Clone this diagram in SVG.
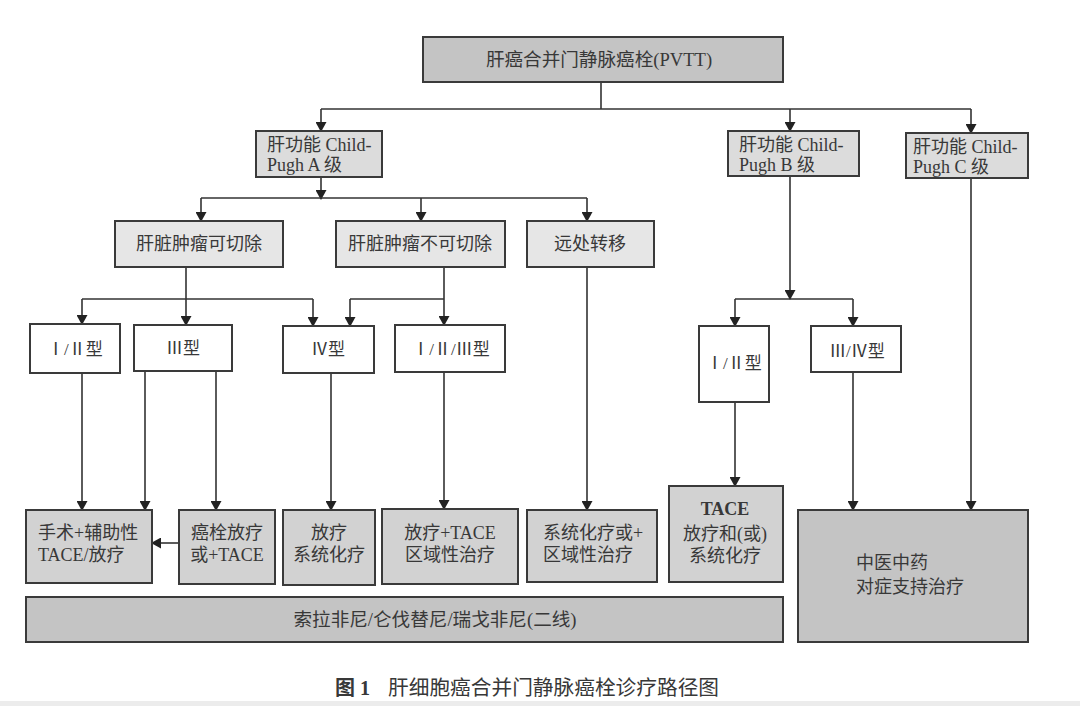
<svg xmlns="http://www.w3.org/2000/svg" width="1080" height="706" viewBox="0 0 1080 706">
<defs>
<marker id="ah" markerWidth="10" markerHeight="11" refX="9" refY="5.5" orient="auto" markerUnits="userSpaceOnUse">
<path d="M0,0 L10,5.5 L0,11 z" fill="#222"/>
</marker>
<style>
.b{stroke:#3a3a3a;stroke-width:2}
.f0{fill:#c4c4c4}.f1{fill:#dcdcdc}.f2{fill:#e6e6e6}.f3{fill:#ffffff}.f4{fill:#d2d2d2}
text{font-family:"Liberation Serif","Noto Sans CJK SC",serif;font-size:18px;fill:#383838}
.c{text-anchor:middle}
.s{font-size:17px}
.t{font-size:18.6px}
.cap{font-size:20.7px}
.cn line{stroke:#333;stroke-width:1.6;fill:none}
.ar{marker-end:url(#ah)}
</style>
</defs>
<rect x="0" y="0" width="1080" height="706" fill="#ffffff"/>
<rect x="0" y="701" width="1080" height="5" fill="#ececec"/>

<g class="cn" id="connectors">
<line x1="601" y1="82" x2="601" y2="109"/>
<line x1="321" y1="109" x2="971" y2="109"/>
<line class="ar" x1="321" y1="109" x2="321" y2="131"/>
<line class="ar" x1="790" y1="109" x2="790" y2="131"/>
<line class="ar" x1="971" y1="109" x2="971" y2="133"/>
<line class="ar" x1="321" y1="177" x2="321" y2="199"/>
<line x1="201" y1="198" x2="587" y2="198"/>
<line class="ar" x1="201" y1="198" x2="201" y2="221"/>
<line class="ar" x1="421" y1="198" x2="421" y2="221"/>
<line class="ar" x1="587" y1="198" x2="587" y2="221"/>
<line x1="186" y1="267" x2="186" y2="299"/>
<line x1="82" y1="299" x2="313" y2="299"/>
<line class="ar" x1="82" y1="299" x2="82" y2="324"/>
<line class="ar" x1="186" y1="299" x2="186" y2="325"/>
<line class="ar" x1="313" y1="299" x2="313" y2="326"/>
<line x1="444" y1="267" x2="444" y2="299"/>
<line x1="350" y1="299" x2="444" y2="299"/>
<line class="ar" x1="350" y1="299" x2="350" y2="326"/>
<line class="ar" x1="444" y1="299" x2="444" y2="325"/>
<line class="ar" x1="587" y1="267" x2="587" y2="510"/>
<line class="ar" x1="790" y1="176" x2="790" y2="299"/>
<line x1="735" y1="299" x2="853" y2="299"/>
<line class="ar" x1="735" y1="299" x2="735" y2="326"/>
<line class="ar" x1="853" y1="299" x2="853" y2="326"/>
<line class="ar" x1="971" y1="178" x2="971" y2="510"/>
<line class="ar" x1="82" y1="373" x2="82" y2="510"/>
<line class="ar" x1="145" y1="371" x2="145" y2="510"/>
<line class="ar" x1="216" y1="371" x2="216" y2="510"/>
<line class="ar" x1="331" y1="373" x2="331" y2="510"/>
<line class="ar" x1="444" y1="372" x2="444" y2="509"/>
<line class="ar" x1="735" y1="402" x2="735" y2="486"/>
<line class="ar" x1="853" y1="372" x2="853" y2="510"/>
<line class="ar" x1="179" y1="543" x2="152" y2="543"/>
</g>

<g id="pvtt"><rect class="b f0" x="423" y="37" width="360" height="45"/><text class="c t" x="599" y="66">肝癌合并门静脉癌栓(PVTT)</text></g>

<g id="cpA"><rect class="b f1" x="256" y="131" width="126" height="46"/><text x="267" y="151">肝功能 Child-</text><text x="267" y="171">Pugh A 级</text></g>
<g id="cpB"><rect class="b f1" x="728" y="131" width="131" height="45"/><text x="739" y="151">肝功能 Child-</text><text x="739" y="171">Pugh B 级</text></g>
<g id="cpC"><rect class="b f1" x="906" y="133" width="122" height="45"/><text x="913" y="153">肝功能 Child-</text><text x="913" y="173">Pugh C 级</text></g>

<g id="resectable"><rect class="b f2" x="115" y="221" width="168" height="46"/><text class="c" x="199" y="250">肝脏肿瘤可切除</text></g>
<g id="unresectable"><rect class="b f2" x="336" y="221" width="169" height="46"/><text class="c" x="420" y="250">肝脏肿瘤不可切除</text></g>
<g id="metastasis"><rect class="b f2" x="527" y="221" width="127" height="46"/><text class="c" x="590" y="250">远处转移</text></g>

<g id="t12a"><rect class="b f3" x="30" y="324" width="90" height="49"/><text class="c s" x="75" y="355">Ⅰ/Ⅱ型</text></g>
<g id="t3"><rect class="b f3" x="134" y="325" width="98" height="46"/><text class="c s" x="183" y="354">Ⅲ型</text></g>
<g id="t4"><rect class="b f3" x="283" y="326" width="91" height="47"/><text class="c s" x="328" y="355">Ⅳ型</text></g>
<g id="t123"><rect class="b f3" x="395" y="325" width="110" height="47"/><text class="c s" x="451" y="355">Ⅰ/Ⅱ/Ⅲ型</text></g>
<g id="t12b"><rect class="b f3" x="699" y="326" width="70" height="76"/><text class="c s" x="734" y="369">Ⅰ/Ⅱ型</text></g>
<g id="t34"><rect class="b f3" x="811" y="326" width="90" height="46"/><text class="c s" x="857" y="357">Ⅲ/Ⅳ型</text></g>

<g id="surgery"><rect class="b f4" x="26" y="510" width="126" height="73"/><text x="38" y="539">手术+辅助性</text><text x="38" y="561">TACE/放疗</text></g>
<g id="thrombusRT"><rect class="b f4" x="179" y="510" width="96" height="74"/><text class="c" x="227" y="539">癌栓放疗</text><text class="c" x="227" y="561">或+TACE</text></g>
<g id="rtSys"><rect class="b f4" x="283" y="510" width="92" height="75"/><text class="c" x="329" y="539">放疗</text><text class="c" x="329" y="561">系统化疗</text></g>
<g id="rtTace"><rect class="b f4" x="382" y="509" width="136" height="75"/><text class="c" x="450" y="539">放疗+TACE</text><text class="c" x="450" y="561">区域性治疗</text></g>
<g id="sysReg"><rect class="b f4" x="527" y="510" width="130" height="72"/><text x="543" y="539">系统化疗或+</text><text x="543" y="561">区域性治疗</text></g>
<g id="tace"><rect class="b f4" x="669" y="486" width="114" height="96"/><text class="c" x="725" y="515" font-weight="bold">TACE</text><text class="c" x="725" y="540">放疗和(或)</text><text class="c" x="725" y="562">系统化疗</text></g>
<g id="tcm"><rect class="b f0" x="798" y="510" width="230" height="132"/><text x="856" y="569">中医中药</text><text x="856" y="593">对症支持治疗</text></g>
<g id="secondLine"><rect class="b f0" x="26" y="597" width="757" height="45"/><text class="c t" x="435" y="626">索拉非尼/仑伐替尼/瑞戈非尼(二线)</text></g>

<text x="335" y="695" font-weight="bold" style="font-size:20px">图 1</text>
<text class="cap" x="388" y="695">肝细胞癌合并门静脉癌栓诊疗路径图</text>
</svg>
